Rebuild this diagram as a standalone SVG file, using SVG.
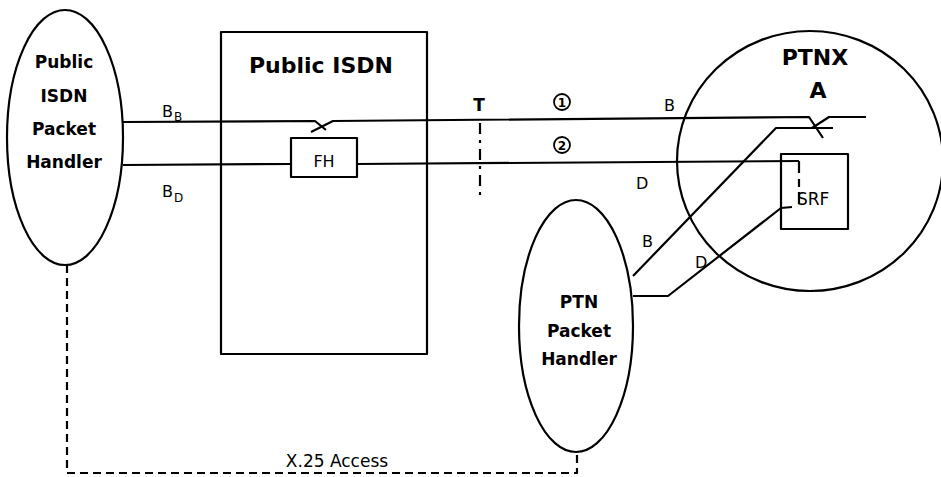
<svg xmlns="http://www.w3.org/2000/svg" width="941" height="477" viewBox="0 0 941 477">
<style>
.s{fill:none;stroke:#000;stroke-width:2.2;stroke-linejoin:round;stroke-linecap:butt}
.nb{font-family:"DejaVu Sans","Liberation Sans",sans-serif;font-weight:bold;fill:#000;text-anchor:middle}
.t{font-family:"DejaVu Sans","Liberation Sans",sans-serif;fill:#000}
.dash{stroke-dasharray:8,5}
</style>
<rect width="941" height="477" fill="#fff"/>
<g id="public-isdn-packet-handler">
<ellipse class="s" cx="65" cy="137.5" rx="58" ry="127.5"/>
<text class="nb" x="64" y="68" font-size="17">Public</text>
<text class="nb" x="64" y="102" font-size="17">ISDN</text>
<text class="nb" x="64" y="135" font-size="17">Packet</text>
<text class="nb" x="64" y="168" font-size="17">Handler</text>
</g>
<g id="public-isdn">
<rect class="s" x="221" y="32" width="206" height="322"/>
<text class="nb" x="321" y="73" font-size="22">Public ISDN</text>
</g>
<g id="fh">
<rect class="s" x="291" y="138" width="66" height="39" fill="#fff"/>
<text class="t" x="324" y="167" font-size="16" text-anchor="middle">FH</text>
</g>
<g id="ptnx-a">
<ellipse class="s" cx="810" cy="161" rx="133" ry="130"/>
<text class="nb" x="815" y="65" font-size="22">PTNX</text>
<text class="nb" x="818" y="98" font-size="22">A</text>
</g>
<g id="srf">
<rect class="s" x="781" y="154" width="67" height="75"/>
<text class="t" x="797" y="205" font-size="17">SRF</text>
</g>
<g id="ptn-packet-handler">
<ellipse class="s" cx="576" cy="326" rx="57" ry="126"/>
<text class="nb" x="579" y="308" font-size="17">PTN</text>
<text class="nb" x="579" y="337" font-size="17">Packet</text>
<text class="nb" x="579" y="365" font-size="17">Handler</text>
</g>
<g id="connectors">
<path class="s" d="M123,122 L315,121 L326,130"/>
<path class="s" d="M311,132 L333,121 L809,117 L823,138"/>
<path class="s" d="M812,128 L829,117 L866,117"/>
<path class="s" d="M123,165 L291,164"/>
<path class="s" d="M357,164 L799,161"/>
<path class="s" d="M799,161 L799,208" stroke-dasharray="12,6,8,5"/>
<path class="s" d="M633,276 L776,128 L833,128"/>
<path class="s" d="M633,296 L668,296 L781,208 L792,207"/>
<path class="s" d="M480,123 L480,200" stroke-dasharray="11,6,3,6"/>
<path class="s dash" d="M67,265 L67,473 L577,473 L577,452"/>
<text class="t" x="162" y="117" font-size="16">B</text>
<text class="t" x="174" y="121" font-size="12">B</text>
<text class="t" x="162" y="197" font-size="16">B</text>
<text class="t" x="174" y="202" font-size="12">D</text>
<text class="nb" x="479" y="111" font-size="17">T</text>
<circle cx="562" cy="102" r="8" fill="none" stroke="#000" stroke-width="1.8"/>
<text class="nb" x="562" y="106.5" font-size="12">1</text>
<circle cx="562" cy="145" r="8" fill="none" stroke="#000" stroke-width="1.8"/>
<text class="nb" x="562" y="149.5" font-size="12">2</text>
<text class="t" x="664" y="111" font-size="16">B</text>
<text class="t" x="636" y="189" font-size="16">D</text>
<text class="t" x="642" y="247" font-size="16">B</text>
<text class="t" x="695" y="268" font-size="16">D</text>
<text class="t" x="337" y="467" font-size="17" text-anchor="middle">X.25 Access</text>
</g>
</svg>
